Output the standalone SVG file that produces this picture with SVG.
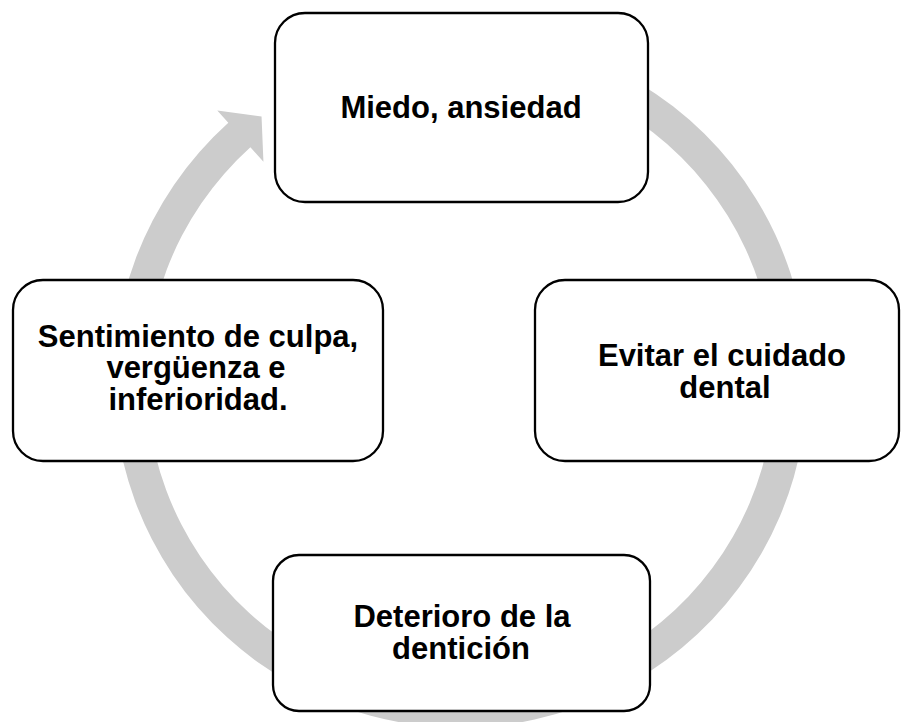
<svg xmlns="http://www.w3.org/2000/svg" width="901" height="722" viewBox="0 0 901 722">
<style>
.box{fill:#ffffff;stroke:#000000;stroke-width:2.3}
.lbl{font-family:"Liberation Sans",Arial,sans-serif;font-weight:bold;font-size:31px;fill:#000000;text-anchor:middle}
.ring{fill:#cccccc;stroke:none}
</style>
<rect width="901" height="722" fill="#ffffff"/>
<g id="connectors">
<path class="ring" d="M 400.24 38.87 A 347 347 0 1 1 228.31 122.73 L 217.27 110.47 L 261.54 116.57 L 263.44 161.75 L 250.39 147.25 A 314 314 0 1 0 405.97 71.37 Z"/>
</g>
<g id="node-miedo">
<rect class="box" x="275" y="13" width="373" height="189" rx="30" ry="30"/>
<text class="lbl" x="461" y="117.5">Miedo, ansiedad</text>
</g>
<g id="node-evitar">
<rect class="box" x="535" y="280" width="364" height="181" rx="30" ry="30"/>
<text class="lbl" x="722" y="366">Evitar el cuidado</text>
<text class="lbl" x="725" y="398">dental</text>
</g>
<g id="node-deterioro">
<rect class="box" x="273" y="555" width="377" height="156" rx="26" ry="26"/>
<text class="lbl" x="462" y="626.7">Deterioro de la</text>
<text class="lbl" x="461" y="658.5">dentición</text>
</g>
<g id="node-sentimiento">
<rect class="box" x="13" y="280" width="370" height="181" rx="30" ry="30"/>
<text class="lbl" x="198" y="346.7">Sentimiento de culpa,</text>
<text class="lbl" x="196" y="378.3">vergüenza e</text>
<text class="lbl" x="198" y="410">inferioridad.</text>
</g>
</svg>
